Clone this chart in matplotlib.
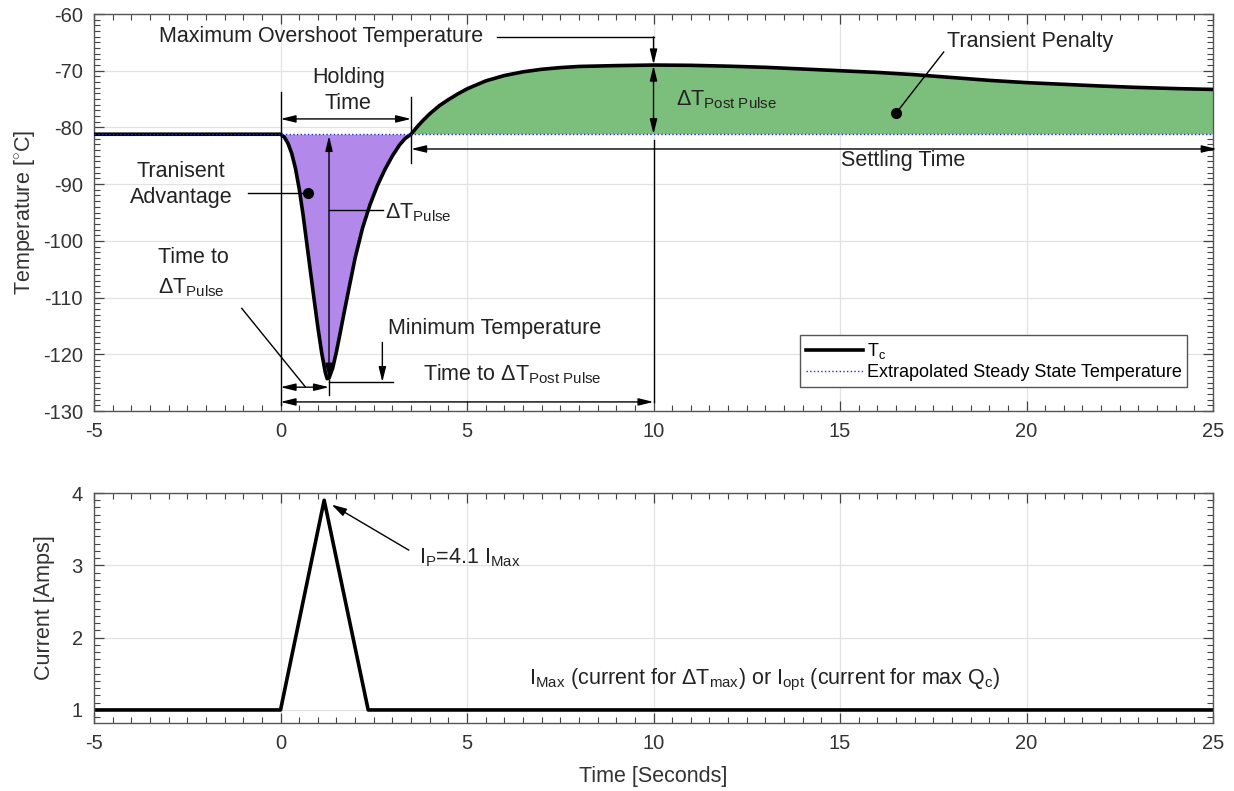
import numpy as np
import matplotlib
matplotlib.use("Agg")
import matplotlib.pyplot as plt
from matplotlib.ticker import MultipleLocator

plt.rcParams['font.family'] = ['Liberation Sans', 'DejaVu Sans']
plt.rcParams['mathtext.fontset'] = 'custom'
plt.rcParams['mathtext.rm'] = 'Liberation Sans'
plt.rcParams['mathtext.it'] = 'Liberation Sans:italic'
plt.rcParams['mathtext.bf'] = 'Liberation Sans:bold'
plt.rcParams['axes.unicode_minus'] = False

# cold side temperature
t_tc = [-5, 0, 0.1, 0.2, 0.3, 0.4, 0.5, 0.6, 0.7, 0.8, 0.9, 1.0, 1.1, 1.2, 1.25, 1.3,
        1.4, 1.5, 1.6, 1.7, 1.8, 2.0, 2.2, 2.4, 2.6, 2.8, 3.0, 3.2, 3.35, 3.5, 3.65, 3.8,
        4.0, 4.25, 4.5, 4.75, 5.0, 5.5, 6.0, 6.5, 7.0, 7.5, 8.0, 9.0, 10, 11, 12, 13, 14,
        15, 16, 17, 18, 19, 20, 21, 22, 23, 24, 25]
temp_tc = [-81.2, -81.2, -81.7, -82.8, -84.6, -87.2, -90.8, -95.2, -100.2, -105.3, -110.3,
           -115.2, -119.6, -123.2, -124.3, -124.2, -122.4, -119.5, -116.2, -112.8, -109.5,
           -103.0, -97.7, -93.6, -90.2, -87.4, -85.0, -83.0, -81.9, -81.2, -80.0, -78.9,
           -77.6, -76.2, -75.1, -74.1, -73.2, -71.8, -70.85, -70.2, -69.75, -69.45, -69.25,
           -69.1, -69.0, -69.05, -69.2, -69.4, -69.7, -70.0, -70.3, -70.7, -71.2, -71.7,
           -72.1, -72.4, -72.7, -72.95, -73.15, -73.3]
t_steady = [-5, 25]
temp_steady = [-81.2, -81.2]

# pulse current
t_cur = [-5, 0, 1.17, 2.35, 25]
cur = [1, 1, 3.9, 1, 1]

fig = plt.figure(figsize=(12.34, 7.91), dpi=100)
ax1 = fig.add_axes([0.0762, 0.4804, 0.9068, 0.5019])
ax2 = fig.add_axes([0.0762, 0.0860, 0.9068, 0.2907])

tc = np.array(temp_tc)
base = temp_steady[0]
ax1.fill_between(t_tc, tc, base, where=tc <= base, color='#b388eb', interpolate=True, lw=0)
ax1.fill_between(t_tc, tc, base, where=tc >= base, color='#7cbf7c', interpolate=True, lw=0)
ax1.plot(t_tc, temp_tc, color='black', lw=2.6, label='T$_{\\rm c}$', zorder=4,
         solid_joinstyle='round')
ax1.plot(t_steady, temp_steady, color='#2828d0', lw=1.0, ls=':',
         label='Extrapolated Steady State Temperature', zorder=5)

ax2.plot(t_cur, cur, color='black', lw=2.6)

for ax in (ax1, ax2):
    ax.set_xlim(-5, 25)
    ax.xaxis.set_major_locator(MultipleLocator(5))
    ax.xaxis.set_minor_locator(MultipleLocator(0.5))
    ax.grid(True, which='major', color='#e2e2e2', lw=0.9)
    ax.set_axisbelow(True)
    ax.tick_params(which='both', direction='in', top=True, right=True,
                   colors='#444444', labelcolor='#333333', labelsize=14.5)
    ax.tick_params(which='major', length=7, width=0.9, pad=8)
    ax.tick_params(which='minor', length=4, width=0.8)
    for s in ax.spines.values():
        s.set_color('#555555')
        s.set_linewidth(1.0)

ax1.set_ylim(-130, -60)
ax1.yaxis.set_major_locator(MultipleLocator(10))
ax1.yaxis.set_minor_locator(MultipleLocator(1))
ax1.set_ylabel('Temperature [$^{\\circ}$C]', fontsize=15.5, color='#333333', labelpad=4)

ax2.set_ylim(0.82, 4)
ax2.yaxis.set_major_locator(MultipleLocator(1))
ax2.yaxis.set_minor_locator(MultipleLocator(0.1))
ax2.set_ylabel('Current [Amps]', fontsize=15.5, color='#333333', labelpad=12)
ax2.set_xlabel('Time [Seconds]', fontsize=15.5, color='#333333', labelpad=9)

fs = 15.5
tcol = '#222222'
arr2 = dict(arrowstyle='<|-|>,head_length=0.9,head_width=0.22', color='black', lw=1.0,
            shrinkA=0, shrinkB=0)
arr1 = dict(arrowstyle='-|>,head_length=0.9,head_width=0.22', color='black', lw=1.0,
            shrinkA=0, shrinkB=0)


def darrow(ax, p0, p1):
    ax.annotate('', xy=p1, xytext=p0, arrowprops=arr2, annotation_clip=False)


def sarrow(ax, p0, p1):
    ax.annotate('', xy=p1, xytext=p0, arrowprops=arr1, annotation_clip=False)


# maximum overshoot
ax1.text(-3.26, -64.05, 'Maximum Overshoot Temperature', fontsize=fs, color=tcol, va='center')
ax1.plot([5.81, 10], [-64.05, -64.05], color='black', lw=1.0)
sarrow(ax1, (10, -64.05), (10, -68.9))
darrow(ax1, (10, -69.1), (10, -81.2))
ax1.plot([10, 10], [-82.3, -128.4], color='black', lw=1.0)
ax1.text(10.6, -76.05, '$\\Delta$T$_{\\rm Post\\ Pulse}$', fontsize=fs, color=tcol, va='baseline')

# holding time
ax1.text(1.82, -73.5, 'Holding\nTime', fontsize=fs, color=tcol, ha='center', va='center',
         linespacing=1.3)
darrow(ax1, (0, -78.5), (3.5, -78.5))
ax1.plot([0, 0], [-73.7, -129.0], color='black', lw=1.0)
ax1.plot([3.5, 3.5], [-74.6, -86.3], color='black', lw=1.0)

# transient advantage
ax1.text(-2.67, -90.1, 'Tranisent\nAdvantage', fontsize=fs, color=tcol, ha='center', va='center',
         linespacing=1.3)
ax1.plot([-0.87, 0.74], [-91.6, -91.6], color='black', lw=1.0)
ax1.plot([0.74], [-91.6], 'o', color='black', ms=7)

# delta T pulse
darrow(ax1, (1.3, -81.5), (1.3, -124.3))
ax1.plot([1.3, 1.3], [-124.5, -127.2], color='black', lw=1.0)
ax1.plot([1.3, 2.75], [-94.6, -94.6], color='black', lw=1.0)
ax1.text(2.81, -96.0, '$\\Delta$T$_{\\rm Pulse}$', fontsize=fs, color=tcol, va='baseline')

# time to delta T pulse
ax1.text(-2.34, -103.0, 'Time to', fontsize=fs, color=tcol, ha='center', va='center')
ax1.text(-3.29, -109.3, '$\\Delta$T$_{\\rm Pulse}$', fontsize=fs, color=tcol, va='baseline')
ax1.plot([-1.04, 0.66], [-111.9, -125.7], color='black', lw=1.0)
darrow(ax1, (0, -125.8), (1.3, -125.8))

# minimum temperature
ax1.text(2.89, -115.4, 'Minimum Temperature', fontsize=fs, color=tcol, va='center')
sarrow(ax1, (2.73, -117.9), (2.73, -124.9))
ax1.plot([1.3, 3.02], [-124.9, -124.9], color='black', lw=1.0)

# time to delta T post pulse
ax1.text(3.83, -124.55, 'Time to $\\Delta$T$_{\\rm Post\\ Pulse}$', fontsize=fs, color=tcol,
         va='baseline')
darrow(ax1, (0, -128.4), (10, -128.4))

# settling time
darrow(ax1, (3.5, -83.8), (25.1, -83.8))
ax1.text(16.7, -85.9, 'Settling Time', fontsize=fs, color=tcol, ha='center', va='center')

# transient penalty
ax1.text(20.1, -64.9, 'Transient Penalty', fontsize=fs, color=tcol, ha='center', va='center')
ax1.plot([17.78, 16.5], [-66.7, -77.5], color='black', lw=1.0)
ax1.plot([16.5], [-77.5], 'o', color='black', ms=7)

leg = ax1.legend(loc='lower right', bbox_to_anchor=(0.985, 0.038), fontsize=13,
                 fancybox=False, edgecolor='#555555', framealpha=1, handlelength=3.2,
                 handletextpad=0.2, borderpad=0.3, labelspacing=0.2)
leg.get_frame().set_linewidth(1.0)

# current annotations
ax2.annotate('', xy=(1.37, 3.84), xytext=(3.44, 3.21),
             arrowprops=dict(arrowstyle='-|>,head_length=0.9,head_width=0.25', color='black',
                             lw=1.0, shrinkA=0, shrinkB=0))
ax2.text(3.7, 3.03, 'I$_{\\rm P}$=4.1 I$_{\\rm Max}$', fontsize=fs, color=tcol, va='baseline')
ax2.text(6.66, 1.35, 'I$_{\\rm Max}$ (current for $\\Delta$T$_{\\rm max}$) or I$_{\\rm opt}$ '
         '(current for max Q$_{\\rm c}$)', fontsize=fs, color=tcol, va='baseline')

fig.savefig('out.png', dpi=100)
